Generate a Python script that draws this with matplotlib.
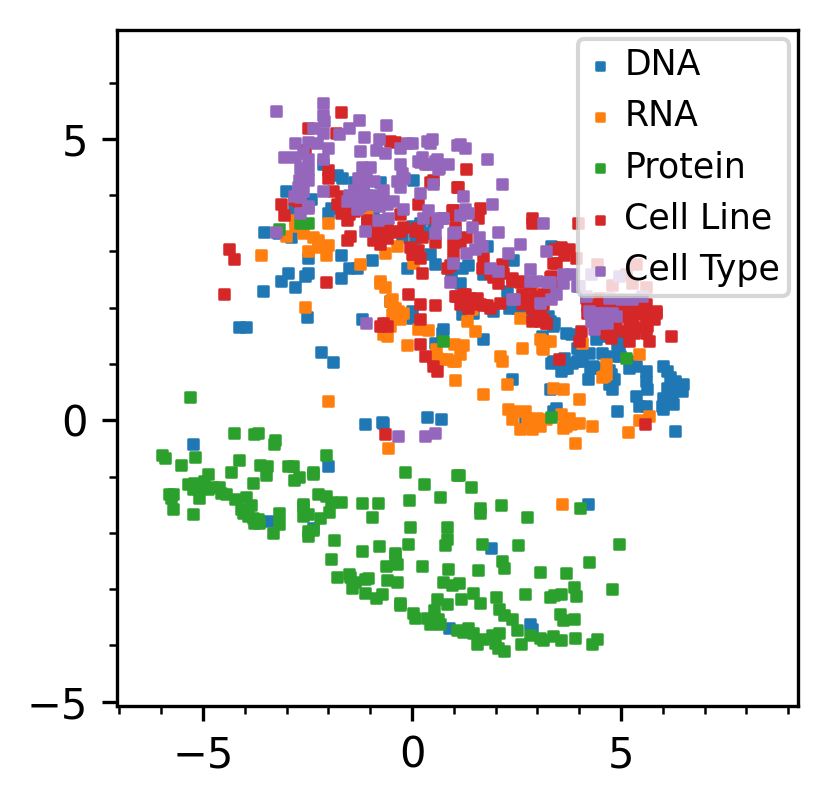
import matplotlib
matplotlib.use("Agg")
import matplotlib.pyplot as plt
import numpy as np
from matplotlib.ticker import MultipleLocator

labels = ["DNA", "RNA", "Protein", "Cell Line", "Cell Type"]

dna = [
    (-2.12, 4.56), (-1.79, 4.35), (-1.67, 4.31), (-3.02, 4.08), (-2.41, 3.94), (-1.95, 3.78), (-2.0, 3.69),
    (-2.83, 3.76), (-3.55, 3.35), (-3.21, 3.32), (-2.9, 3.25), (-1.71, 2.93), (-1.5, 2.71), (-1.31, 2.71),
    (-0.95, 2.84), (-2.5, 2.89), (-2.98, 2.62), (-3.14, 2.48), (-2.48, 2.62), (-2.55, 2.57), (-1.71, 2.53),
    (-1.07, 3.67), (-0.83, 3.55), (0.02, 4.26), (0.0, 3.46), (0.19, 3.5), (0.43, 2.96), (-0.12, 2.7),
    (0.55, 2.78), (-1.4, 4.23), (-1.17, 4.2), (-0.76, 4.23), (0.07, 3.23), (0.31, 3.32), (-0.93, 3.71),
    (-1.12, 3.76), (0.5, 3.43),
    (-2.81, 2.36), (-3.57, 2.3), (-4.14, 1.66), (-3.98, 1.66), (-2.52, 1.84), (-2.17, 1.22), (-1.9, 1.04),
    (-1.19, 1.8), (-0.52, 2.12), (0.0, 1.95), (0.0, 1.82), (0.93, 2.62), (1.14, 2.43), (0.74, 1.63),
    (0.5, 1.11), (-1.12, -0.06), (-0.71, -0.03), (0.36, 0.06), (0.69, 0.03),
    (-5.24, -0.42), (-2.02, -0.81), (-3.45, -1.79), (-2.38, -1.91), (1.88, -2.27), (4.21, -1.49),
    (0.88, -3.69), (2.81, -3.62), (2.88, -3.71),
    (1.31, 1.91), (1.19, 1.89), (1.93, 1.95), (2.33, 2.0), (2.5, 2.0), (2.64, 1.86), (2.81, 1.89),
    (3.24, 1.86), (3.29, 1.77), (3.4, 1.73), (3.36, 1.68), (3.69, 1.55), (3.81, 1.54), (4.0, 1.27),
    (0.71, 1.55), (0.55, 1.38), (1.69, 1.45), (2.4, 0.74), (3.29, 0.56), (3.45, 0.22), (3.36, 0.17),
    (2.69, 0.0), (4.91, 1.36), (4.55, 1.2), (4.81, 1.15), (4.98, 1.15), (3.36, 1.06), (3.57, 0.88),
    (3.71, 0.92), (3.83, 1.02), (3.95, 1.06), (4.07, 1.06), (3.64, 1.11), (4.26, 0.93), (4.33, 0.97),
    (4.5, 0.93), (4.21, 0.74), (4.76, 0.83), (4.83, 0.74), (4.71, 0.65), (4.79, 0.56), (4.9, 0.17),
    (-0.69, -0.04), (5.6, 0.88), (5.6, 0.7), (5.36, 0.43), (5.43, 0.26), (5.6, 0.26), (5.62, 0.56),
    (6.0, 0.97), (6.1, 0.88), (6.17, 0.76), (6.29, 0.7), (6.41, 0.61), (6.48, 0.65), (6.1, 0.58),
    (6.21, 0.49), (6.45, 0.52), (6.0, 0.4), (5.98, 0.26), (6.12, 0.31), (6.24, 0.29), (6.0, 0.2),
    (6.29, -0.19), (3.95, 1.29), (4.24, 1.2), (4.95, 1.33), (3.33, 1.02), (3.64, 0.92), (4.71, 0.9),
    (5.19, 0.93), (5.36, 0.97), (5.24, 1.06), (4.4, 1.45), (4.6, 1.5), (5.0, 1.5), (3.1, 1.5),
    (-0.24, 3.25), (1.19, 2.71), (1.33, 2.75), (2.41, 2.84), (3.33, 3.1), (1.69, 2.6), (1.93, 2.62),
    (2.26, 2.3), (2.33, 2.13), (3.36, 3.07), (1.21, 1.95), (1.45, 1.91), (1.79, 3.1),
]

rna = [
    (-3.62, 2.93), (-3.02, 3.28), (-2.79, 3.55), (-2.79, 3.46), (-2.6, 3.32), (-2.38, 3.25), (-2.24, 3.2),
    (-2.14, 3.1), (-2.0, 3.12), (-2.26, 3.07), (-2.5, 3.0), (-2.07, 2.93), (-2.0, 3.5), (-1.24, 2.78),
    (-1.07, 3.64), (-0.36, 3.1), (-0.64, 2.98), (0.02, 2.8), (-0.76, 2.48),
    (-2.57, 2.02), (-2.0, 0.35), (-0.76, 2.43), (-0.64, 2.37), (-0.48, 2.16), (-0.45, 2.0), (-0.33, 1.95),
    (-0.21, 1.91), (-0.29, 1.8), (-0.48, 1.89), (-0.6, 1.73), (-0.52, 1.68), (-0.69, 1.54), (-0.6, 1.5),
    (0.14, 1.63), (0.38, 1.61), (-0.12, 1.34), (0.57, 1.27), (0.6, 1.11), (0.83, 1.08), (1.02, 1.06),
    (1.0, 1.36), (1.02, 0.72), (-0.52, 2.12), (-0.4, 2.0),
    (1.31, 1.77), (1.5, 1.59), (0.72, 1.09), (0.98, 1.06), (1.14, 1.18), (1.21, 1.33), (1.69, 0.47),
    (2.26, 0.65), (2.1, 1.15), (2.14, 1.06), (2.64, 1.29), (3.05, 1.45), (3.17, 1.41), (3.29, 1.41),
    (3.1, 1.29), (3.36, 0.58), (3.6, 0.56), (4.0, 0.38),
    (2.29, 0.2), (2.45, 0.17), (2.38, 0.02), (2.69, 0.17), (2.74, 0.04), (2.86, 0.02), (2.98, 0.04),
    (2.93, -0.06), (3.05, -0.1), (3.21, 0.02), (2.57, -0.15), (2.86, -0.15), (3.57, 0.11), (3.64, 0.02),
    (3.76, 0.04), (3.69, -0.1), (3.81, -0.06), (3.6, -0.13), (4.0, -0.04), (4.31, -0.1), (3.9, -0.4),
    (5.17, -0.2), (5.43, 0.0), (5.67, 0.08), (4.64, 1.0), (4.55, 0.76), (-0.57, -0.49),
    (3.12, 1.27), (4.07, 1.38), (5.43, 1.18), (4.6, 0.79), (4.64, 0.83), (3.59, -1.49),
    (1.21, 2.07), (1.43, 1.98), (2.57, 1.82), (2.88, 2.43),
]

protein = [
    (-5.31, 0.42), (-4.26, -0.22), (-3.78, -0.24), (-3.69, -0.22), (-3.31, -0.42), (-3.29, -0.35),
    (-5.98, -0.61), (-5.91, -0.67), (-5.19, -0.65), (-5.52, -0.79), (-2.05, -0.61), (-4.14, -0.7),
    (-3.64, -0.79), (-3.48, -0.81), (-2.98, -0.81), (-2.86, -0.81), (-4.33, -0.92), (-4.88, -0.95),
    (-3.5, -0.97), (-2.71, -1.0), (-2.83, -1.06), (-2.38, -0.95), (-2.36, -0.92), (-3.81, -1.11),
    (-5.36, -1.13), (-5.21, -1.11), (-5.1, -1.18), (-4.98, -1.08), (-5.24, -1.22), (-5.12, -1.22),
    (-4.88, -1.22), (-4.76, -1.18), (-4.62, -1.18), (-4.57, -1.29), (-4.45, -1.31), (-5.81, -1.31),
    (-5.71, -1.31), (-5.76, -1.38), (-5.1, -1.38), (-5.71, -1.58), (-5.24, -1.67), (-4.24, -1.4),
    (-3.98, -1.36), (-4.1, -1.58), (-3.86, -1.5), (-4.05, -1.65), (-3.93, -1.7), (-3.81, -1.74),
    (-3.69, -1.76), (-3.79, -1.83), (-3.67, -1.83), (-3.19, -1.65), (-3.19, -1.85), (-3.33, -2.0),
    (-2.62, -1.49), (-2.6, -1.52), (-2.62, -1.7), (-2.48, -1.67), (-2.21, -1.74), (-2.24, -1.31),
    (-2.05, -1.34), (-1.95, -1.45), (-1.71, -1.45), (-1.98, -1.63), (-2.48, -1.97), (-2.36, -1.95),
    (-2.48, -2.06), (-1.86, -2.13), (-1.93, -2.46), (-1.21, -1.47), (-0.81, -1.47), (-0.95, -1.72),
    (-0.17, -0.92), (0.29, -1.13), (-0.07, -1.41), (0.67, -1.36), (1.07, -0.97), (-0.05, -1.9),
    (0.83, -1.9), (-0.1, -2.2), (0.83, -2.11), (0.79, -2.22), (-1.19, -2.32), (-0.79, -2.23),
    (-0.4, -2.36), (-0.4, -2.41), (-0.62, -2.59), (-0.36, -2.55), (0.24, -2.59), (0.86, -2.64),
    (1.12, -0.97), (1.4, -1.18), (1.62, -1.56), (1.62, -1.65), (2.12, -1.51), (2.74, -1.72),
    (4.02, -1.56), (1.67, -2.2), (2.53, -2.22), (4.95, -2.2), (1.57, -2.66), (2.14, -2.5), (2.21, -2.62),
    (3.05, -2.69), (3.69, -2.71), (4.24, -2.52),
    (-1.79, -2.79), (-1.52, -2.73), (-1.48, -2.79), (-1.36, -2.87), (-1.43, -2.98), (-1.12, -2.82),
    (-1.05, -2.8), (-1.12, -3.07), (-0.86, -3.16), (-0.71, -3.09), (-0.6, -2.84), (-0.36, -2.87),
    (-0.29, -3.25), (-0.29, -3.29), (0.02, -3.43), (0.07, -3.51), (0.36, -3.51), (0.43, -3.62),
    (0.62, -3.53), (0.67, -3.62), (0.52, -3.37), (0.6, -3.18), (0.83, -3.27), (0.74, -2.87),
    (0.95, -2.93), (1.12, -2.89), (1.17, -3.18), (1.45, -3.07), (1.62, -3.25), (2.0, -3.14),
    (2.07, -3.35), (2.21, -3.46), (2.4, -3.53), (2.71, -3.09), (3.29, -3.14), (3.4, -3.11), (3.57, -3.09),
    (3.88, -2.96), (3.93, -3.12), (4.79, -3.0), (3.55, -3.44), (3.6, -3.55), (3.88, -3.53),
    (1.07, -3.73), (1.21, -3.76), (1.33, -3.69), (1.45, -3.78), (1.55, -3.98), (1.69, -3.89),
    (1.9, -3.82), (2.07, -3.78), (1.98, -3.96), (2.05, -4.05), (2.19, -4.1), (2.5, -3.73), (2.6, -3.98),
    (2.81, -3.82), (3.07, -3.87), (3.12, -3.91), (3.36, -3.84), (3.57, -3.91), (3.9, -3.87),
    (4.31, -3.98), (4.43, -3.89),
    (-2.67, 3.51), (-2.48, 3.51), (-3.19, 3.4), (0.74, 1.4), (5.12, 1.11), (3.33, 0.06),
]

cell_line = [
    (-1.69, 5.47), (-2.48, 5.2), (-1.83, 5.1), (-0.52, 4.97), (-0.4, 4.94), (-2.55, 4.8), (-2.02, 4.44),
    (-2.0, 4.3), (-2.83, 3.94), (-2.74, 3.9), (-3.14, 3.85), (-3.07, 3.64), (-1.88, 4.08), (-1.71, 3.99),
    (-1.6, 3.9), (-1.79, 3.85), (-1.64, 3.76), (-1.71, 3.69), (-1.52, 3.67), (-1.4, 3.72), (-1.55, 3.55),
    (-1.31, 3.87), (-1.07, 3.55), (-0.6, 3.55), (-0.76, 3.43), (-0.83, 3.32), (-0.52, 3.37), (-0.36, 3.34),
    (-0.6, 3.23), (-0.76, 3.14), (-0.93, 3.2), (-1.55, 3.2), (-1.48, 3.28), (-0.29, 3.67), (0.14, 3.85),
    (0.12, 3.41), (0.24, 3.25), (0.55, 3.16), (0.0, 2.96), (0.19, 2.89), (0.24, 2.61), (0.83, 2.71),
    (-4.38, 3.05), (-4.26, 2.86), (0.43, 4.23), (0.5, 4.26), (-1.07, 3.51), (-0.05, 3.07), (0.02, 2.96),
    (0.14, 3.02), (-0.29, 3.37), (-0.21, 3.43), (0.9, 2.75), (0.98, 2.93), (1.07, 4.14), (0.98, 3.73),
    (1.3, 4.47), (1.1, 4.14), (0.95, 3.73), (1.02, 3.64), (1.62, 3.78), (1.57, 3.6), (2.86, 3.59),
    (2.88, 3.51), (3.98, 3.5), (1.02, 3.43), (1.3, 3.25), (1.14, 3.16), (0.98, 3.14), (1.69, 2.89),
    (1.67, 2.71), (1.86, 2.62), (2.14, 2.78), (2.17, 2.61), (1.93, 2.54), (2.05, 2.43), (2.4, 2.52),
    (2.57, 2.45), (3.4, 3.05), (3.57, 3.07), (3.76, 3.05), (3.64, 2.93), (3.93, 2.89), (3.45, 2.8),
    (3.29, 2.54), (3.36, 2.36), (3.12, 2.25), (2.98, 2.12), (1.02, 2.21), (1.21, 2.25), (1.38, 2.18),
    (1.55, 2.09), (1.14, 2.07), (1.33, 2.0), (1.69, 2.04), (1.86, 2.0), (2.1, 2.09), (2.64, 2.25),
    (2.81, 2.18), (2.62, 2.07), (2.88, 2.0), (3.05, 1.95), (4.17, 2.18), (4.4, 2.04), (4.48, 2.18),
    (4.67, 1.98), (5.02, 2.0), (5.36, 1.95), (5.6, 1.9), (5.83, 1.91), (4.43, 2.78), (4.79, 2.41),
    (5.12, 2.6), (5.36, 2.78), (5.6, 2.36), (5.26, 2.43), (3.36, 2.8), (3.33, 2.57), (3.24, 2.34),
    (3.1, 2.07), (3.12, 1.8), (3.21, 1.72), (4.55, 2.09), (4.79, 2.07), (5.26, 2.07), (5.43, 2.12),
    (5.6, 2.07), (4.19, 2.04), (4.19, 1.91), (5.12, 1.86), (5.26, 1.8), (5.43, 1.89), (5.6, 1.86),
    (5.79, 1.8), (5.83, 1.95), (4.88, 1.68), (5.19, 1.65), (5.43, 1.65), (5.62, 1.68), (5.6, 1.55),
    (5.31, 1.55), (5.07, 1.59), (4.71, 1.55), (4.76, 1.47), (4.64, 1.55), (4.52, 1.63), (4.05, 1.59),
    (4.0, 1.41), (5.19, 1.41), (5.67, 1.41), (6.19, 1.5), (3.52, 1.09), (5.57, -0.06),
    (-0.1, 2.25), (0.19, 2.07), (0.55, 2.04), (0.19, 1.8), (-0.69, 1.73), (-0.6, 1.68), (0.19, 1.36),
    (0.31, 1.15), (0.5, 0.97), (0.6, 0.88), (1.07, 2.21), (1.26, 2.25), (1.38, 2.09), (1.19, 2.07),
    (1.62, 2.07), (1.79, 2.04), (1.55, 2.18), (2.4, 2.48), (2.57, 2.48), (2.81, 2.39), (2.98, 2.21),
    (3.12, 2.07), (2.88, 2.0), (3.05, 1.77), (3.21, 1.72), (2.86, 1.77),
    (-4.5, 2.25), (-2.05, 2.46), (-0.76, 1.68), (-0.64, -0.24), (0.07, 3.37), (0.38, 3.6),
]

cell_type = [
    (-3.25, 5.5), (-2.12, 5.63), (-2.14, 5.42), (-2.1, 5.31), (-1.26, 5.33), (-0.62, 5.24), (-2.36, 5.19),
    (-1.5, 5.2), (-2.12, 5.1), (-1.74, 5.08), (-1.14, 5.04), (-0.79, 4.99), (-2.81, 4.92), (-2.5, 4.95),
    (-2.27, 4.92), (-2.02, 4.83), (-1.24, 4.78), (-0.86, 4.8), (-0.64, 4.74), (-0.29, 4.83), (0.0, 4.92),
    (0.43, 4.92), (-3.07, 4.67), (-2.79, 4.67), (-2.6, 4.74), (-2.48, 4.65), (-2.12, 4.64),
    (-2.67, 4.49), (-2.5, 4.44), (-2.6, 4.32), (-2.71, 4.26), (-2.5, 4.26), (-2.74, 4.14), (-2.6, 4.08),
    (-2.83, 3.99), (-2.67, 3.96), (-2.12, 4.08), (-2.5, 3.8), (-2.69, 3.69), (-3.26, 3.34),
    (-1.2, 4.5), (-1.0, 4.5), (-1.1, 4.35), (-1.3, 4.3), (-0.9, 4.25), (-1.2, 4.2), (-1.4, 4.1),
    (-1.5, 4.0), (-1.3, 3.95), (-1.1, 4.0), (-0.9, 4.0), (-0.75, 3.95), (-1.0, 3.85), (-1.25, 3.8),
    (-0.8, 3.8), (-0.6, 3.85), (-0.45, 3.9), (-1.55, 3.9), (-0.7, 4.1),
    (-0.3, 4.56), (-0.25, 4.4), (-0.35, 4.25), (-0.3, 4.14), (-0.2, 4.3),
    (0.15, 4.6), (0.3, 4.55), (0.55, 4.6), (0.62, 4.47), (0.5, 4.2), (0.19, 4.03), (0.38, 3.73),
    (0.26, 3.59), (0.6, 3.52), (0.71, 3.59), (-0.21, 3.76), (-0.57, 3.6), (-1.12, 3.37), (-1.31, 3.76),
    (0.55, 3.32), (-0.81, 3.55),
    (-0.12, 4.92), (0.36, 4.97), (0.48, 5.0), (1.14, 4.9), (1.26, 4.83), (1.79, 4.65), (0.86, 4.56),
    (0.24, 4.67), (0.19, 4.58), (0.38, 4.56), (0.6, 4.65), (0.64, 4.49), (2.14, 4.2), (1.21, 3.99),
    (1.9, 3.85), (1.26, 3.76), (1.14, 3.64), (1.33, 3.69), (0.74, 3.59), (1.43, 3.43), (1.02, 3.34),
    (2.05, 3.34), (1.6, 3.25), (2.57, 3.14), (3.12, 3.51), (1.3, 2.98), (1.5, 3.05), (1.67, 3.1),
    (0.98, 2.8), (1.86, 2.71), (2.05, 2.66), (2.29, 2.98), (2.81, 2.68), (3.21, 3.0), (0.9, 2.45),
    (2.81, 2.48), (2.98, 2.48), (3.29, 2.45), (3.6, 2.6), (3.81, 2.6), (3.6, 2.43), (3.45, 2.25),
    (2.45, 2.16), (3.05, 2.09), (3.95, 2.39), (2.4, 2.16), (4.17, 2.21),
    (4.26, 1.9), (4.42, 1.9), (4.55, 1.91), (4.78, 1.9), (3.24, 2.45), (3.33, 2.16), (4.0, 2.39),
    (4.71, 2.18), (5.0, 2.16), (5.26, 2.16), (5.5, 2.21), (4.24, 1.95), (4.64, 1.89), (4.88, 1.86),
    (4.29, 1.77), (4.48, 1.73), (4.67, 1.73), (4.36, 1.63), (4.29, 2.6), (4.95, 2.57),
    (-0.33, -0.28), (0.31, -0.28), (0.55, -0.22), (-1.1, 1.72), (1.07, 4.89), (0.67, 3.59),
    (0.98, 3.32), (-2.5, 3.78),
]

series = [dna, rna, protein, cell_line, cell_type]

fig = plt.figure(figsize=(829 / 300, 804 / 300), dpi=300)
ax = fig.add_axes([0.1416, 0.1224, 0.8214, 0.8407])

for pts, name in zip(series, labels):
    arr = np.array(pts)
    ax.scatter(arr[:, 0], arr[:, 1], s=5, marker="s", linewidths=0.6, label=name)

ax.set_xlim(-7.05, 9.24)
ax.set_ylim(-5.07, 6.94)
ax.xaxis.set_major_locator(MultipleLocator(5))
ax.yaxis.set_major_locator(MultipleLocator(5))
ax.xaxis.set_minor_locator(MultipleLocator(1))
ax.yaxis.set_minor_locator(MultipleLocator(1))
ax.tick_params(labelsize=10)

ax.legend(loc="upper right", fontsize="small", borderaxespad=0.27, borderpad=0.25,
          handlelength=0.8, handletextpad=0.3, markerscale=0.8)

fig.savefig("out.png", dpi=300)
